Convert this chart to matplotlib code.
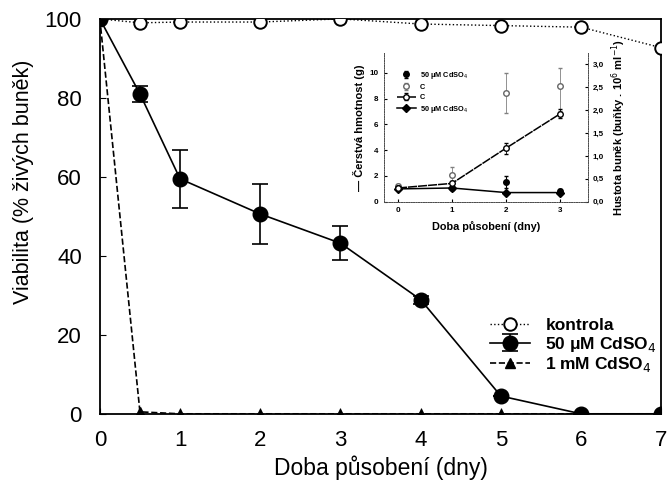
import numpy as np
import matplotlib.pyplot as plt

plt.rcParams['font.family'] = ['Liberation Sans', 'DejaVu Sans']

# =======================================================
# Main data: viability (%)
# =======================================================
days_ctrl = [0, 0.5, 1, 2, 3, 4, 5, 6, 7]
ctrl      = [100, 99, 99.2, 99.2, 100, 98.7, 98.3, 97.9, 92.7]

days_cd50 = [0, 0.5, 1, 2, 3, 4, 5, 6, 7]
cd50      = [100, 81, 59.5, 50.6, 43.2, 28.9, 4.5, 0, 0]
cd50_err  = [0, 2, 7.3, 7.6, 4.3, 1, 0, 0, 0]

days_cd1  = [0, 0.5, 1, 2, 3, 4, 5, 6, 7]
cd1       = [100, 0.5, 0, 0, 0, 0, 0, 0, 0]

# =======================================================
# Inset data
# =======================================================
in_days        = [0, 1, 2, 3]
weight_ctrl    = [1.25, 2.1, 8.4, 9.0]
weight_ctrl_lo = [0.1, 0.5, 1.5, 2.0]
weight_ctrl_hi = [0.1, 0.6, 1.6, 1.4]
weight_cd      = [1.1, 1.1, 1.55, 0.8]
weight_cd_err  = [0.1, 0.1, 0.45, 0.2]
dens_ctrl      = [0.30, 0.40, 1.17, 1.92]
dens_ctrl_err  = [0.03, 0.05, 0.12, 0.1]
dens_cd        = [0.28, 0.30, 0.20, 0.20]

fig, ax = plt.subplots(figsize=(6.7, 4.84), dpi=100)
fig.subplots_adjust(left=0.149, right=0.987, bottom=0.145, top=0.961)

ax.plot(days_cd1, cd1, ls='--', color='black', lw=1.2, marker='^', ms=7,
        mfc='black', mec='black', label='1 mM CdSO$_4$', zorder=2)
ax.plot(days_ctrl, ctrl, ls=':', color='black', lw=1.0, marker='o', ms=9,
        mfc='white', mec='black', mew=1.4, label='kontrola', zorder=3)
ax.errorbar(days_cd50, cd50, yerr=cd50_err, fmt='-o', color='black', lw=1.2,
            ms=10.5, mfc='black', capsize=5.5, capthick=1.2, elinewidth=1.2,
            label='50 μM CdSO$_4$', zorder=4)

ax.set_xlim(0, 7)
ax.set_ylim(0, 100)
ax.set_xticks(range(8))
ax.set_yticks(range(0, 101, 20))
ax.tick_params(direction='in', labelsize=16, length=4)
ax.tick_params(axis='x', pad=12)
ax.tick_params(axis='y', pad=13)
for s in ax.spines.values():
    s.set_linewidth(1.3)
ax.set_xlabel('Doba působení (dny)', fontsize=16.5, labelpad=3)
ax.set_ylabel('Viabilita (% živých buněk)', fontsize=15.5)
ax.yaxis.set_label_coords(-0.118, 0.587)

handles, labels = ax.get_legend_handles_labels()
order = [1, 2, 0]
ax.legend([handles[i] for i in order], [labels[i] for i in order],
          loc='lower right', bbox_to_anchor=(1.02, 0.06), frameon=False,
          prop={'weight': 'bold', 'size': 12.5}, handlelength=2.3,
          handletextpad=0.9, labelspacing=0.1)

# =======================================================
# Inset
# =======================================================
ins = ax.inset_axes([3.54, 53.7, 2.55, 37.7], transform=ax.transData)
ins.errorbar(in_days, weight_ctrl, yerr=[weight_ctrl_lo, weight_ctrl_hi], fmt='o',
             color='0.5', ms=4, mfc='white', mec='0.4', ls='none',
             elinewidth=0.6, capsize=1.5, label='C', zorder=3)
ins.errorbar(in_days, weight_cd, yerr=weight_cd_err, fmt='o', color='black', ms=4,
             ls='none', elinewidth=0.8, capsize=1.5, label='50 μM CdSO$_4$', zorder=3)
ins.set_xlim(-0.26, 3.52)
ins.set_ylim(0, 11.55)
ins.set_xticks(in_days)
ins.set_yticks(range(0, 11, 2))
ins.tick_params(direction='in', labelsize=5.8, length=2, pad=4)
for lbl in ins.get_xticklabels() + ins.get_yticklabels():
    lbl.set_fontweight('bold')
ins.spines['top'].set_visible(False)
for s in ['left', 'right', 'bottom']:
    ins.spines[s].set_linestyle((0, (1, 1.5)))
    ins.spines[s].set_linewidth(0.7)
    ins.spines[s].set_color('0.3')
ins.set_xlabel('Doba působení (dny)', fontsize=7.8, fontweight='bold', labelpad=5)
ins.set_ylabel('— Čerstvá hmotnost (g)', fontsize=8, fontweight='bold', labelpad=3)

ins2 = ins.twinx()
ins2.errorbar(in_days, dens_ctrl, yerr=dens_ctrl_err, fmt='--o', color='black',
              lw=1.1, dashes=(6, 0.6), ms=4, mfc='white', elinewidth=0.6,
              capsize=1.5, label='C')
ins2.plot(in_days, dens_cd, '-D', color='black', lw=1.1, ms=4,
          label='50 μM CdSO$_4$')
ins2.set_ylim(0, 3.25)
ins2.set_yticks(np.arange(0, 3.01, 0.5))
ins2.set_yticklabels([f'{v:.1f}'.replace('.', ',') for v in np.arange(0, 3.01, 0.5)])
ins2.tick_params(direction='in', labelsize=5.8, length=2, pad=3)
for lbl in ins2.get_yticklabels():
    lbl.set_fontweight('bold')
ins2.spines['top'].set_visible(False)
for s in ['left', 'right', 'bottom']:
    ins2.spines[s].set_linestyle((0, (1, 1.5)))
    ins2.spines[s].set_linewidth(0.7)
    ins2.spines[s].set_color('0.3')
ins2.set_ylabel('Hustota buněk (buňky . 10$^6$ ml$^{-1}$)', fontsize=8,
                fontweight='bold', labelpad=4)

h1, l1 = ins.get_legend_handles_labels()
h2, l2 = ins2.get_legend_handles_labels()
ins.legend([h1[1], h1[0], h2[1], h2[0]], [l1[1], l1[0], l2[1], l2[0]],
           loc='upper left', bbox_to_anchor=(0.03, 0.93), frameon=False,
           prop={'weight': 'bold', 'size': 5.3}, handlelength=2.7,
           handletextpad=0.5, labelspacing=0.4)

fig.savefig('out.png', dpi=100)
